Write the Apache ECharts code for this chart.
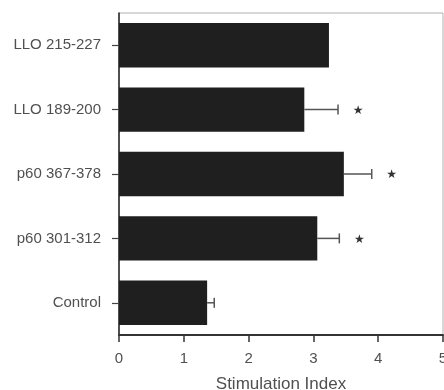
<!DOCTYPE html>
<html>
<head>
<meta charset="utf-8">
<script src="https://cdn.jsdelivr.net/npm/echarts@6/dist/echarts.min.js"></script>
<style>
  html, body { margin: 0; padding: 0; background: #fff; }
  #chart { width: 444px; height: 390px; }
</style>
</head>
<body>
<div id="chart"></div>
<script>
// Peptides, listed top to bottom
const categories = ['LLO 215-227', 'LLO 189-200', 'p60 367-378', 'p60 301-312', 'Control'];
// Mean stimulation index per peptide
const means = [3.24, 2.86, 3.47, 3.06, 1.36];
// Error (upper whisker length); 0 = no whisker drawn
const errors = [0, 0.52, 0.43, 0.34, 0.11];
// Significance markers
const significant = [false, true, true, true, false];
const xTicks = [0, 1, 2, 3, 4, 5];

const chart = echarts.init(document.getElementById('chart'));
const textColor = '#505050';

const whiskerData = categories.map((c, i) => [i, means[i], errors[i], significant[i] ? 1 : 0]);

chart.setOption({
  animation: false,
  grid: {
    left: 119, right: 1, top: 13, bottom: 55,
    outerBoundsMode: 'none',
    containLabel: false,
    show: true, borderColor: '#b0b0b0', borderWidth: 1, backgroundColor: 'transparent'
  },
  xAxis: {
    type: 'value',
    min: xTicks[0], max: xTicks[xTicks.length - 1], interval: 1,
    name: 'Stimulation Index',
    nameLocation: 'middle',
    nameGap: 41,
    nameTextStyle: { fontFamily: 'Liberation Sans', fontSize: 17, color: textColor },
    axisLine: { show: true, lineStyle: { color: '#333', width: 2 } },
    axisTick: { show: true, length: 7, lineStyle: { color: '#333', width: 1.5 } },
    axisLabel: { fontFamily: 'Liberation Sans', fontSize: 15, color: textColor, margin: 16 },
    splitLine: { show: false }
  },
  yAxis: {
    type: 'category',
    data: categories,
    inverse: true,
    axisLine: { show: true, lineStyle: { color: '#222', width: 1.5 } },
    axisTick: { show: true, alignWithLabel: true, length: 7, lineStyle: { color: '#444', width: 1.2 } },
    axisLabel: { fontFamily: 'Liberation Sans', fontSize: 15, color: textColor, margin: 18 }
  },
  series: [
    {
      type: 'bar',
      data: means,
      barWidth: '69%',
      itemStyle: { color: '#1f1f1f' },
      z: 2
    },
    {
      type: 'custom',
      data: whiskerData,
      z: 3,
      renderItem: function (params, api) {
        const idx = api.value(0);
        const mean = api.value(1);
        const err = api.value(2);
        const sig = api.value(3);
        const start = api.coord([mean, idx]);
        const end = api.coord([mean + err, idx]);
        const children = [];
        if (err > 0) {
          children.push({
            type: 'line',
            shape: { x1: start[0], y1: start[1], x2: end[0], y2: end[1] },
            style: { stroke: '#555', lineWidth: 1.5 }
          });
          children.push({
            type: 'line',
            shape: { x1: end[0], y1: end[1] - 5, x2: end[0], y2: end[1] + 5 },
            style: { stroke: '#555', lineWidth: 1.5 }
          });
        }
        if (sig) {
          children.push({
            type: 'text',
            style: {
              x: end[0] + 20, y: end[1] + 1,
              text: '★',
              fontSize: 12,
              fontFamily: 'DejaVu Sans',
              fill: '#333',
              align: 'center', verticalAlign: 'middle'
            }
          });
        }
        return { type: 'group', children: children };
      }
    }
  ]
});
</script>
</body>
</html>
